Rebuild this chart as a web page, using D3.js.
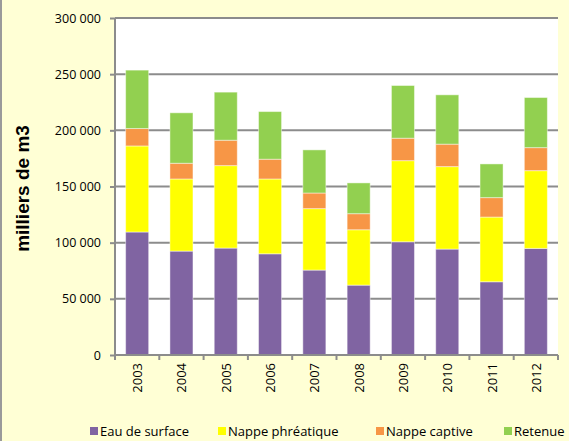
<!DOCTYPE html>
<html>
<head>
<meta charset="utf-8">
<script src="https://cdn.jsdelivr.net/npm/d3@7"></script>
<style>
  body { margin: 0; background: #FFFFD5; }
  svg { display: block; }
</style>
</head>
<body>
<div id="chart"></div>
<script>
// values in milliers de m3
var years = ["2003", "2004", "2005", "2006", "2007", "2008", "2009", "2010", "2011", "2012"];
var seriesNames = ["Eau de surface", "Nappe phréatique", "Nappe captive", "Retenue"];
var eauSurface = [109500, 92500, 95200, 90100, 75600, 62200, 100800, 94300, 65200, 94900];
var nappePhreatique = [76600, 64200, 73400, 66600, 54700, 49300, 72200, 73400, 57600, 69200];
var nappeCaptive = [15500, 14000, 22600, 17600, 13900, 14300, 20000, 20000, 17300, 20500];
var retenue = [52000, 44900, 42800, 42400, 38400, 27400, 46900, 43900, 30000, 44600];
var yTicks = [0, 50000, 100000, 150000, 200000, 250000, 300000];

var colors = ["#8064A2", "#FFFF00", "#F79646", "#92D050"];

var W = 569, H = 441;
var margin = { top: 18, right: 11, bottom: 86, left: 115 },
  width = W - margin.left - margin.right,
  height = H - margin.top - margin.bottom;

var rows = years.map(function(y, i) {
  return { year: y, s0: eauSurface[i], s1: nappePhreatique[i], s2: nappeCaptive[i], s3: retenue[i] };
});
var stacked = d3.stack().keys(["s0", "s1", "s2", "s3"])(rows);

var svg = d3.select("#chart").append("svg")
  .attr("width", W)
  .attr("height", H);

// chart frame
svg.append("rect")
  .attr("x", 0).attr("y", 0)
  .attr("width", W).attr("height", H)
  .attr("fill", "#FFFFD5");
svg.append("line")
  .attr("x1", 1).attr("x2", 1)
  .attr("y1", 0).attr("y2", H)
  .attr("stroke", "#9a9a9a").attr("stroke-width", 2);

var g = svg.append("g")
  .attr("transform", "translate(" + margin.left + "," + margin.top + ")");

var x = d3.scaleBand().domain(years).range([0, width]).paddingInner(0.48).paddingOuter(0.24);
var y = d3.scaleLinear().domain([0, 300000]).range([height, 0]);

// plot area
g.append("rect")
  .attr("width", width).attr("height", height)
  .attr("fill", "#ffffff");

// gridlines
g.selectAll(".grid").data(yTicks.slice(1)).enter()
  .append("line")
  .attr("x1", 0).attr("x2", width)
  .attr("y1", function(d) { return y(d); })
  .attr("y2", function(d) { return y(d); })
  .attr("stroke", "#8c8c8c").attr("stroke-width", 2);

// bars
g.selectAll(".layer").data(stacked).enter()
  .append("g")
  .attr("fill", function(d, i) { return colors[i]; })
  .selectAll("rect")
  .data(function(d) { return d; })
  .enter()
  .append("rect")
  .attr("x", function(d) { return x(d.data.year); })
  .attr("width", x.bandwidth())
  .attr("y", function(d) { return y(d[1]); })
  .attr("height", function(d) { return y(d[0]) - y(d[1]); })
  .attr("stroke", "rgba(255,255,255,0.45)")
  .attr("stroke-width", 1);

// y axis
var yAxis = g.append("g")
  .call(d3.axisLeft(y).tickValues(yTicks).tickSize(5).tickPadding(9)
    .tickFormat(function(d) { return d3.format(",")(d).replace(/,/g, " "); }));
yAxis.select(".domain").attr("stroke", "#8c8c8c").attr("stroke-width", 2).attr("d", "M0," + height + "V0");
yAxis.selectAll(".tick line").attr("stroke", "#8c8c8c").attr("stroke-width", 2);
yAxis.selectAll("text")
  .attr("font-family", "Open Sans, sans-serif")
  .attr("font-size", 12.5)
  .attr("fill", "#000");

// x axis with boundary ticks
var xAxis = g.append("g").attr("transform", "translate(0," + height + ")");
xAxis.append("line")
  .attr("x1", 0).attr("x2", width)
  .attr("stroke", "#8c8c8c").attr("stroke-width", 2);
var step = width / years.length;
xAxis.selectAll(".xt").data(d3.range(years.length + 1)).enter()
  .append("line")
  .attr("x1", function(d) { return d * step; })
  .attr("x2", function(d) { return d * step; })
  .attr("y1", 0).attr("y2", 5)
  .attr("stroke", "#8c8c8c").attr("stroke-width", 2);
xAxis.selectAll(".xl").data(years).enter()
  .append("text")
  .attr("transform", function(d) {
    return "translate(" + (x(d) + x.bandwidth() / 2 + 5) + ",8) rotate(-90)";
  })
  .attr("text-anchor", "end")
  .attr("font-family", "Open Sans, sans-serif")
  .attr("font-size", 13)
  .text(function(d) { return d; });

// axis title
svg.append("text")
  .attr("transform", "translate(29," + (margin.top + height / 2 + 2) + ") rotate(-90)")
  .attr("text-anchor", "middle")
  .attr("font-family", "Liberation Sans, Arial, sans-serif")
  .attr("font-weight", "bold")
  .attr("font-size", 19)
  .text("milliers de m3");

// legend
var legendX = [90, 218, 376, 504];
var legend = svg.selectAll(".legend").data(seriesNames).enter()
  .append("g")
  .attr("transform", function(d, i) { return "translate(" + legendX[i] + ",427)"; });
legend.append("rect")
  .attr("width", 8).attr("height", 8)
  .attr("fill", function(d, i) { return colors[i]; });
legend.append("text")
  .attr("x", 10).attr("y", 8.5)
  .attr("font-family", "Open Sans, sans-serif")
  .attr("font-size", 13)
  .text(function(d) { return d; });
</script>
</body>
</html>
